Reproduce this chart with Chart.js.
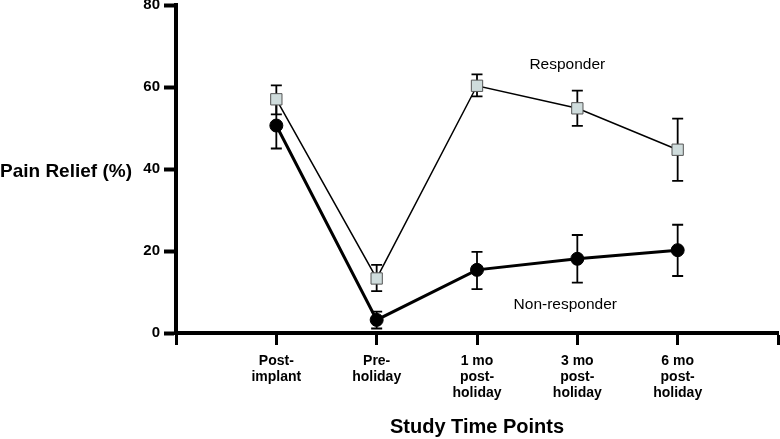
<!DOCTYPE html>
<html>
<head>
<meta charset="utf-8">
<script src="https://cdn.jsdelivr.net/npm/chart.js@4"></script>
<style>
  body { margin: 0; background: #fff; }
  #wrap { width: 780px; height: 439px; }
</style>
</head>
<body>
<div id="wrap"><canvas id="myChart" width="780" height="439"></canvas></div>
<script>
// datos
const timePoints = [['Post-', 'implant'], ['Pre-', 'holiday'], ['1 mo', 'post-', 'holiday'], ['3 mo', 'post-', 'holiday'], ['6 mo', 'post-', 'holiday']];
const yTicks = [0, 20, 40, 60, 80];

const respMean = [57.0, 13.3, 60.3, 54.8, 44.7];
const respHigh = [60.4, 16.6, 63.1, 59.1, 52.3];
const respLow = [53.3, 10.2, 57.7, 50.5, 37.1];

const nonMean = [50.6, 3.2, 15.4, 18.1, 20.2];
const nonHigh = [56.2, 5.2, 19.8, 23.9, 26.4];
const nonLow = [45.0, 1.1, 10.7, 12.3, 13.9];

const seriesNames = ['Responder', 'Non-responder'];
const seriesLabelAt = [[3.9, 65.4], [3.88, 6.8]];

const FONT = '"Liberation Sans", Arial, sans-serif';

function toPoints(vals) {
  return vals.map((v, i) => ({ x: i + 1, y: v }));
}

// barras de error, dibujadas antes de los puntos
const errorBars = {
  id: 'errorBars',
  beforeDatasetsDraw(chart) {
    const ctx = chart.ctx;
    const xs = chart.scales.x, ys = chart.scales.y;
    const sets = [[respHigh, respLow], [nonHigh, nonLow]];
    ctx.save();
    ctx.strokeStyle = '#000';
    ctx.lineWidth = 1.8;
    sets.forEach(([hi, lo]) => {
      hi.forEach((h, i) => {
        const px = xs.getPixelForValue(i + 1);
        const pt = ys.getPixelForValue(h);
        const pb = ys.getPixelForValue(lo[i]);
        ctx.beginPath();
        ctx.moveTo(px, pt); ctx.lineTo(px, pb);
        ctx.moveTo(px - 5.5, pt); ctx.lineTo(px + 5.5, pt);
        ctx.moveTo(px - 5.5, pb); ctx.lineTo(px + 5.5, pb);
        ctx.stroke();
      });
    });
    ctx.restore();
  },
  afterDraw(chart) {
    const ctx = chart.ctx;
    const xs = chart.scales.x, ys = chart.scales.y;
    ctx.save();
    ctx.fillStyle = '#000';
    ctx.textBaseline = 'middle';
    ctx.font = '15.5px ' + FONT;
    ctx.textAlign = 'center';
    seriesNames.forEach((name, i) => {
      ctx.fillText(name, xs.getPixelForValue(seriesLabelAt[i][0]), ys.getPixelForValue(seriesLabelAt[i][1]));
    });
    ctx.font = 'bold 19px ' + FONT;
    ctx.textAlign = 'left';
    ctx.fillText('Pain Relief (%)', 0, ys.getPixelForValue(40) + 3);
    ctx.restore();
  }
};

const ctx = document.getElementById('myChart').getContext('2d');
new Chart(ctx, {
  type: 'scatter',
  data: {
    datasets: [
      {
        label: 'Non-responder',
        data: toPoints(nonMean),
        showLine: true,
        borderColor: '#000',
        borderWidth: 3,
        pointStyle: 'circle',
        pointRadius: 6.5,
        pointBackgroundColor: '#000',
        pointBorderColor: '#000',
        pointBorderWidth: 1
      },
      {
        label: 'Responder',
        data: toPoints(respMean),
        showLine: true,
        borderColor: '#000',
        borderWidth: 1.5,
        pointStyle: 'rect',
        pointRadius: 8,
        pointBackgroundColor: '#cfdcdc',
        pointBorderColor: '#555',
        pointBorderWidth: 1
      }
    ]
  },
  options: {
    responsive: false,
    animation: false,
    layout: { autoPadding: false, padding: { top: 5, right: 2, left: 0, bottom: 0 } },
    plugins: { legend: { display: false }, tooltip: { enabled: false } },
    scales: {
      x: {
        type: 'linear',
        min: 0,
        max: 6,
        afterFit(scale) {
          scale.height = 106;
          scale.paddingLeft = 0;
          scale.paddingRight = 0;
        },
        afterBuildTicks(scale) { scale.ticks = [0, 1, 2, 3, 4, 5, 6].map(v => ({ value: v })); },
        ticks: {
          color: '#000',
          font: { family: FONT, size: 14, weight: 'bold', lineHeight: 1.15 },
          padding: 8,
          maxRotation: 0,
          autoSkip: false,
          callback: v => (v >= 1 && v <= 5 ? timePoints[v - 1] : '')
        },
        grid: { drawOnChartArea: false, drawTicks: true, tickLength: 12, tickWidth: 3, color: '#000' },
        border: { display: true, width: 4, color: '#000' },
        title: {
          display: true,
          text: 'Study Time Points',
          color: '#000',
          font: { family: FONT, size: 20, weight: 'bold' },
          padding: { top: 0, bottom: 0 }
        }
      },
      y: {
        min: 0,
        max: 80,
        afterFit(scale) {
          scale.width = 176;
          scale.paddingTop = 0;
          scale.paddingBottom = 0;
        },
        afterBuildTicks(scale) { scale.ticks = yTicks.map(v => ({ value: v })); },
        ticks: {
          color: '#000',
          font: { family: FONT, size: 15, weight: 'bold' },
          padding: 4
        },
        grid: { drawOnChartArea: false, drawTicks: true, tickLength: 12, tickWidth: 4, color: '#000' },
        border: { display: true, width: 4, color: '#000' }
      }
    }
  },
  plugins: [errorBars]
});
</script>
</body>
</html>
